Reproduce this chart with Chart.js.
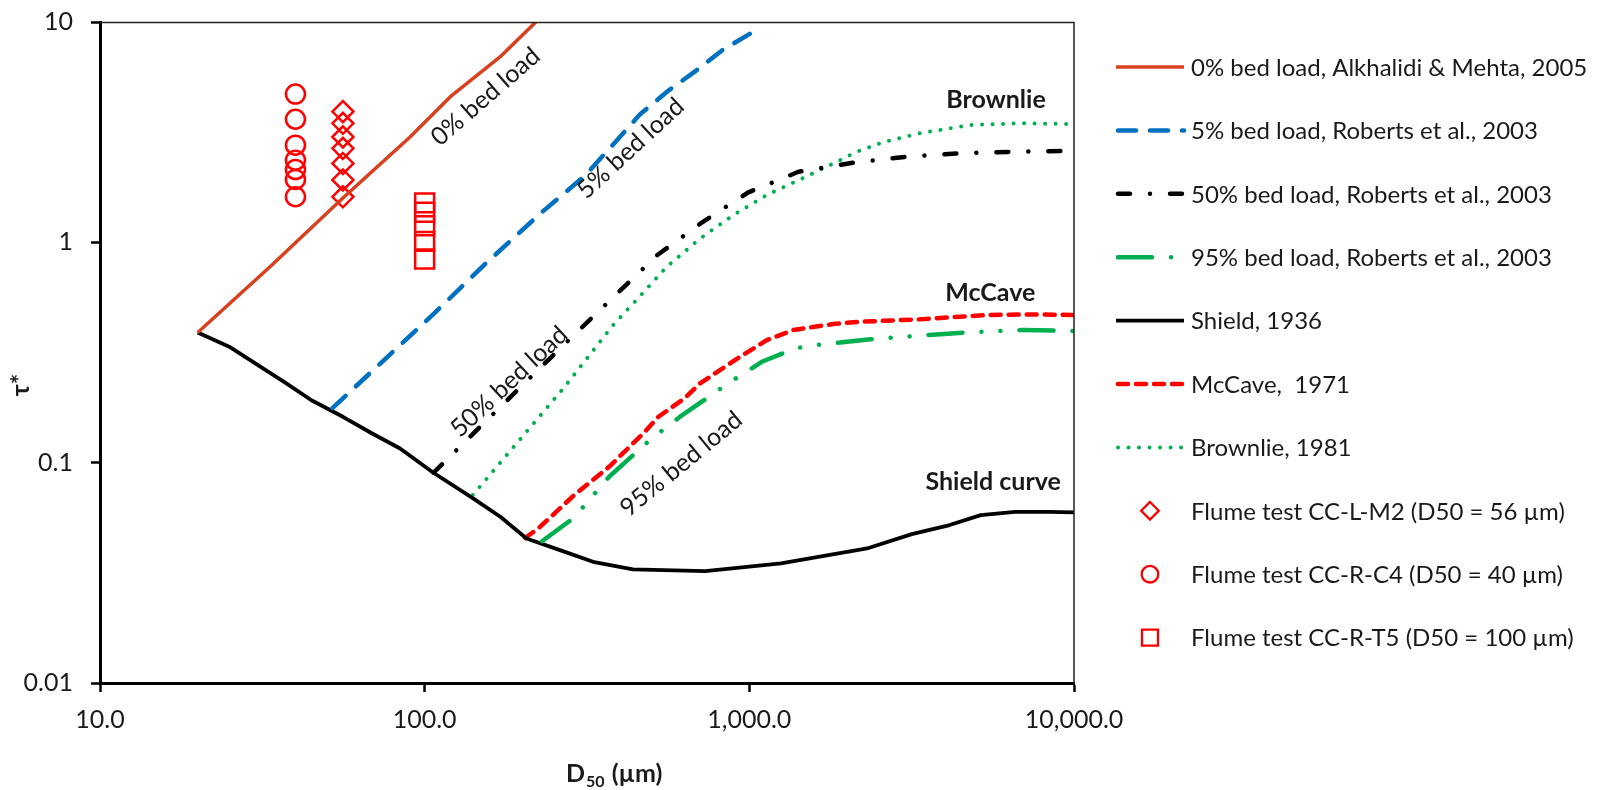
<!DOCTYPE html>
<html>
<head>
<meta charset="utf-8">
<script src="https://cdn.jsdelivr.net/npm/chart.js@4.4.1/dist/chart.umd.min.js"></script>
<style>
html,body{margin:0;padding:0;background:#fff;}
#wrap{width:1599px;height:790px;position:relative;}
</style>
</head>
<body>
<div id="wrap"><canvas id="c" width="1599" height="790"></canvas></div>
<script>
// ---------- axes ----------
const xTickValues = [10, 100, 1000, 10000];
const xTickLabels = ["10.0", "100.0", "1,000.0", "10,000.0"];
const yTickValues = [0.01, 0.1, 1, 10];
const yTickLabels = ["0.01", "0.1", "1", "10"];

// ---------- curves (D50 in µm, tau*) ----------
const bed0X = [20, 33.4, 56, 90, 120, 171, 220];
const bed0Y = [0.39, 0.775, 1.59, 3.0, 4.58, 6.96, 10];

const bed5X = [52, 74, 107, 154, 227, 311, 378, 460, 560, 679, 827, 1030, 1099];
const bed5Y = [0.177, 0.287, 0.476, 0.80, 1.35, 2.0, 2.75, 3.8, 4.85, 5.95, 7.46, 9.04, 9.3];

const bed50X = [106.4, 169, 253, 392, 521, 714, 989, 1417, 2093, 3090, 4565, 6745, 10000];
const bed50Y = [0.090, 0.176, 0.315, 0.587, 0.876, 1.23, 1.68, 2.09, 2.30, 2.45, 2.54, 2.58, 2.60];

const bed95X = [230, 282, 308, 370, 438, 495, 620, 766, 858, 971, 1092, 1384, 1600, 2362, 3577, 4670, 6916, 10000];
const bed95Y = [0.044, 0.0549, 0.063, 0.0863, 0.108, 0.127, 0.164, 0.203, 0.229, 0.256, 0.287, 0.33, 0.342, 0.363, 0.38, 0.39, 0.40, 0.396];

const shieldX = [20, 25, 37.5, 44.8, 56, 68.7, 84, 106.4, 141, 171, 206, 261, 330, 438, 731, 1252, 2305, 3165, 4140, 5160, 6585, 8405, 10000];
const shieldY = [0.39, 0.336, 0.229, 0.192, 0.1615, 0.136, 0.116, 0.090, 0.0689, 0.0568, 0.0453, 0.0401, 0.0355, 0.0328, 0.0322, 0.0349, 0.0408, 0.0474, 0.0521, 0.0578, 0.0598, 0.0598, 0.0595];

const mccaveX = [204, 227, 289, 370, 472, 525, 632, 705, 936, 1132, 1367, 1816, 2194, 3325, 5420, 7815, 10000];
const mccaveY = [0.0455, 0.0512, 0.0713, 0.0958, 0.136, 0.1616, 0.196, 0.229, 0.3025, 0.36, 0.40, 0.426, 0.436, 0.447, 0.468, 0.471, 0.468];

const brownlieX = [140.7, 267.5, 380, 440, 557, 705, 893, 1132, 1434, 1816, 2144, 2608, 3325, 4794, 6916, 10000];
const brownlieY = [0.0713, 0.2175, 0.42, 0.53, 0.775, 1.04, 1.33, 1.64, 1.93, 2.28, 2.58, 2.86, 3.12, 3.41, 3.47, 3.44];

// ---------- flume tests ----------
const m2D50 = 56;
const m2Tau = [3.92, 3.47, 3.01, 2.67, 2.28, 1.92, 1.61];
const c4D50 = 40;
const c4Tau = [4.71, 3.62, 2.76, 2.36, 2.14, 1.93, 1.61];
const t5D50 = 100;
const t5Tau = [1.51, 1.37, 1.19, 1.01, 0.84];

// ---------- labels ----------
const seriesNames = [
  "0% bed load, Alkhalidi & Mehta, 2005",
  "5% bed load, Roberts et al., 2003",
  "50% bed load, Roberts et al., 2003",
  "95% bed load, Roberts et al., 2003",
  "Shield, 1936",
  "McCave,  1971",
  "Brownlie, 1981",
  "Flume test CC-L-M2 (D50 = 56 \u00b5m)",
  "Flume test CC-R-C4 (D50 = 40 \u00b5m)",
  "Flume test CC-R-T5 (D50 = 100 \u00b5m)"
];
const curveNotes = [
  {text: "0% bed load", x: 154, y: 4.58, angle: -41},
  {text: "5% bed load", x: 431, y: 2.67, angle: -42.7},
  {text: "50% bed load", x: 182, y: 0.233, angle: -43},
  {text: "95% bed load", x: 617, y: 0.0986, angle: -39.5}
];
const curveNames = [
  {text: "Brownlie", x: 5754, y: 4.43},
  {text: "McCave", x: 5520, y: 0.587},
  {text: "Shield curve", x: 5636, y: 0.0819}
];

const FONT = "Lato, 'Noto Sans', 'DejaVu Sans', sans-serif";
const TXT = '#1a1a1a';

const pts = (xs, ys) => xs.map((x, i) => ({x: x, y: ys[i]}));
const col = (x, ys) => ys.map(y => ({x: x, y: y}));

const lineDs = (label, data, color, width, dash, cap) => ({
  label, data, showLine: true, borderColor: color, backgroundColor: color,
  borderWidth: width, borderDash: dash, borderCapStyle: cap || 'butt',
  pointRadius: 0, tension: 0, fill: false, borderJoinStyle: 'round'
});
const markDs = (label, data, style, radius) => ({
  label, data, showLine: false, pointStyle: style, pointRadius: radius,
  pointBorderColor: '#FF0000', pointBackgroundColor: 'rgba(0,0,0,0)', pointBorderWidth: 2.5
});

const datasets = [
  lineDs(seriesNames[0], pts(bed0X, bed0Y), '#D9411E', 3.5, [], 'butt'),
  lineDs(seriesNames[1], pts(bed5X, bed5Y), '#0070C0', 4.5, [18, 14], 'round'),
  lineDs(seriesNames[2], pts(bed50X, bed50Y), '#000000', 4.5, [12, 20, 0.01, 20], 'round'),
  lineDs(seriesNames[3], pts(bed95X, bed95Y), '#00B050', 4.5, [34, 19, 0.01, 19, 0.01, 19], 'round'),
  lineDs(seriesNames[4], pts(shieldX, shieldY), '#000000', 3.8, [], 'butt'),
  lineDs(seriesNames[5], pts(mccaveX, mccaveY), '#FF0000', 4.5, [10, 8], 'round'),
  lineDs(seriesNames[6], pts(brownlieX, brownlieY), '#00B050', 4, [0.01, 10.5], 'round'),
  markDs(seriesNames[7], col(m2D50, m2Tau), 'rectRot', 10.5),
  markDs(seriesNames[8], col(c4D50, c4Tau), 'circle', 9.5),
  markDs(seriesNames[9], col(t5D50, t5Tau), 'rect', 13.4)
];

function drawMarker(ctx, style, x, y, r) {
  ctx.beginPath();
  if (style === 'circle') {
    ctx.arc(x, y, r, 0, Math.PI * 2);
  } else if (style === 'rectRot') {
    ctx.moveTo(x, y - r); ctx.lineTo(x + r, y); ctx.lineTo(x, y + r); ctx.lineTo(x - r, y); ctx.closePath();
  } else {
    ctx.rect(x - r, y - r, 2 * r, 2 * r);
  }
  ctx.stroke();
}

const overlay = {
  id: 'overlay',
  afterDatasetsDraw(chart) {
    const ctx = chart.ctx, xs = chart.scales.x, ys = chart.scales.y;
    ctx.save();
    ctx.fillStyle = TXT;
    ctx.textAlign = 'center';
    ctx.textBaseline = 'middle';
    ctx.font = "25px " + FONT;
    curveNotes.forEach(n => {
      ctx.save();
      ctx.translate(xs.getPixelForValue(n.x), ys.getPixelForValue(n.y));
      ctx.rotate(n.angle * Math.PI / 180);
      ctx.fillText(n.text, 0, 0);
      ctx.restore();
    });
    ctx.font = "bold 25px " + FONT;
    curveNames.forEach(n => {
      ctx.fillText(n.text, xs.getPixelForValue(n.x), ys.getPixelForValue(n.y));
    });
    ctx.restore();
  },
  afterDraw(chart) {
    const ctx = chart.ctx, a = chart.chartArea;
    ctx.save();
    // top / right frame
    ctx.strokeStyle = '#222';
    ctx.lineWidth = 1.5;
    ctx.setLineDash([]);
    ctx.beginPath();
    ctx.moveTo(a.left, a.top + 0.5);
    ctx.lineTo(a.right, a.top + 0.5);
    ctx.lineTo(a.right, a.bottom);
    ctx.stroke();

    // x-axis title  D50 (µm)
    ctx.fillStyle = TXT;
    ctx.textAlign = 'left';
    ctx.textBaseline = 'alphabetic';
    const tx = 566, tb = 782;
    ctx.font = "bold 25px " + FONT;
    ctx.fillText("D", tx, tb);
    const wD = ctx.measureText("D").width;
    ctx.font = "bold 16px " + FONT;
    ctx.fillText("50", tx + wD + 1, tb + 5);
    const w50 = ctx.measureText("50").width;
    ctx.font = "bold 25px " + FONT;
    ctx.fillText(" (\u00b5m)", tx + wD + w50 + 2, tb);

    // y-axis title
    ctx.save();
    ctx.translate(21, 385);
    ctx.rotate(-Math.PI / 2);
    ctx.textAlign = 'center';
    ctx.textBaseline = 'middle';
    ctx.font = "bold 25px " + FONT;
    ctx.fillText("\u03c4*", 0, 0);
    ctx.restore();

    // legend
    const lx0 = 1116, lx1 = 1184, ltx = 1191, ly0 = 67, ldy = 63.4;
    chart.data.datasets.forEach((ds, i) => {
      const y = ly0 + i * ldy;
      ctx.save();
      if (ds.showLine) {
        ctx.strokeStyle = ds.borderColor;
        ctx.lineWidth = ds.borderWidth;
        ctx.setLineDash(ds.borderDash || []);
        ctx.lineCap = ds.borderCapStyle || 'butt';
        ctx.beginPath();
        ctx.moveTo(lx0 + (ctx.lineCap === 'round' ? 2 : 0), y);
        ctx.lineTo(lx1, y);
        ctx.stroke();
      } else {
        ctx.strokeStyle = ds.pointBorderColor;
        ctx.lineWidth = 2.3;
        const r = ds.pointStyle === 'circle' ? 8.3 : (ds.pointStyle === 'rectRot' ? 8.8 : 8);
        drawMarker(ctx, ds.pointStyle, 1150, y, r);
      }
      ctx.restore();
      ctx.fillStyle = TXT;
      ctx.font = "24px " + FONT;
      ctx.textAlign = 'left';
      ctx.textBaseline = 'middle';
      ctx.fillText(ds.label, ltx, y + 1);
    });
    ctx.restore();
  }
};

new Chart(document.getElementById('c'), {
  type: 'scatter',
  data: {datasets},
  plugins: [overlay],
  options: {
    responsive: false,
    animation: false,
    events: [],
    devicePixelRatio: 1,
    layout: {padding: {left: 0, right: 525, top: 22, bottom: 0}},
    plugins: {legend: {display: false}, tooltip: {enabled: false}, title: {display: false}},
    scales: {
      x: {
        type: 'logarithmic', position: 'bottom', min: 10, max: 10000,
        afterBuildTicks: s => { s.ticks = xTickValues.map(v => ({value: v})); },
        afterFit: s => { s.height = 107; s.paddingLeft = 0; s.paddingRight = 0; },
        ticks: {
          autoSkip: false, maxRotation: 0, padding: 13, color: TXT,
          font: {family: FONT, size: 25},
          callback: (v, i) => xTickLabels[i]
        },
        grid: {display: true, drawOnChartArea: false, drawTicks: true, tickLength: 9, tickWidth: 2.5, tickColor: '#000'},
        border: {display: true, color: '#000', width: 3}
      },
      y: {
        type: 'logarithmic', position: 'left', min: 0.01, max: 10,
        afterBuildTicks: s => { s.ticks = yTickValues.map(v => ({value: v})); },
        afterFit: s => { s.width = 100; s.paddingTop = 0; s.paddingBottom = 0; },
        ticks: {
          autoSkip: false, padding: 18, color: TXT,
          font: {family: FONT, size: 25},
          callback: (v, i) => yTickLabels[i]
        },
        grid: {display: true, drawOnChartArea: false, drawTicks: true, tickLength: 9, tickWidth: 2.5, tickColor: '#000'},
        border: {display: true, color: '#000', width: 3}
      }
    }
  }
});
</script>
</body>
</html>
